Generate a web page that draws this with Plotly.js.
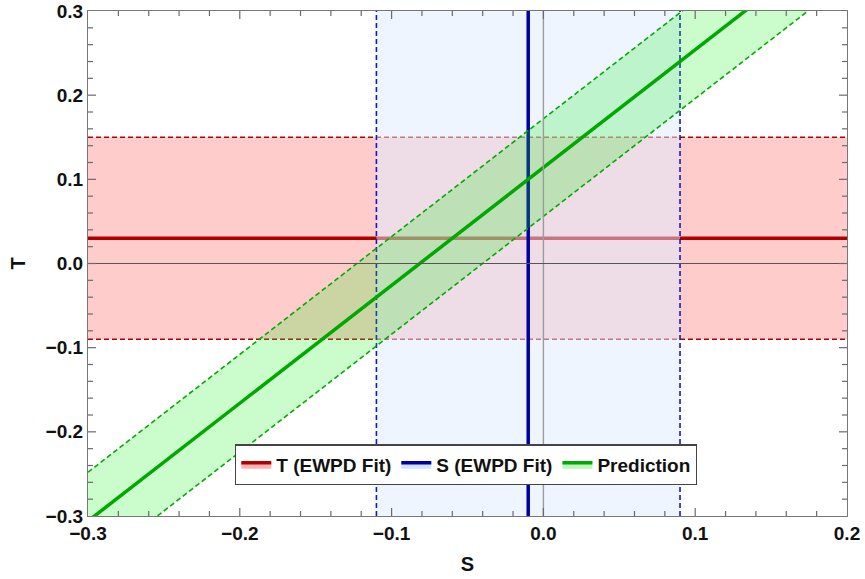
<!DOCTYPE html>
<html>
<head>
<meta charset="utf-8">
<script src="https://cdn.plot.ly/plotly-3.0.1.min.js"></script>
<style>html,body{margin:0;padding:0;background:#fff;}#chart{width:865px;height:579px;}</style>
</head>
<body>
<div id="chart"></div>
<script>
// Axis extents
var sRange = [-0.3, 0.2];
var tRange = [-0.3, 0.3];
// EWPD fit of T: [lower, central, upper]
var tBand = [-0.09, 0.03, 0.15];
// EWPD fit of S: [lower, central, upper]
var sBand = [-0.11, -0.01, 0.09];
// Prediction line and its band, sampled at the S ends of the plot
var predS = [-0.3, 0.2];
var predCentral = [-0.306, 0.394];
var predUpper = [-0.248, 0.452];
var predLower = [-0.364, 0.336];
// Zero axes drawn across the frame
var zeroS = 0, zeroT = 0;
// Tick spacing (major, minor)
var majorStep = 0.1, minorStep = 0.02;

var W = 865, H = 579, M = {l: 88, r: 18, t: 11, b: 63};

var RED = '#b00000', BLUE = '#0000a0', BLUE_D = '#1818c0', GREEN = '#00a800', GREEN_D = '#06a806';
var RED_FILL = 'rgba(255,0,0,0.2)';
var BLUE_FILL = 'rgba(222,235,255,0.5)';
var GREEN_FILL = 'rgba(20,240,20,0.22)';
var DASH = '5px,3px';

function hline(y, color, width, dash, extra) {
  var t = {x: sRange.slice(), y: [y, y], mode: 'lines', hoverinfo: 'skip', showlegend: false,
    line: {color: color, width: width, dash: dash || 'solid'}};
  for (var k in extra) t[k] = extra[k];
  return t;
}
function vline(x, color, width, dash, extra) {
  var t = {x: [x, x], y: tRange.slice(), mode: 'lines', hoverinfo: 'skip', showlegend: false,
    line: {color: color, width: width, dash: dash || 'solid'}};
  for (var k in extra) t[k] = extra[k];
  return t;
}

var traces = [];
// T band
traces.push({x: [sRange[0], sRange[1], sRange[1], sRange[0]], y: [tBand[0], tBand[0], tBand[2], tBand[2]],
  fill: 'toself', fillcolor: RED_FILL, mode: 'lines', line: {width: 0}, hoverinfo: 'skip', showlegend: false});
traces.push(hline(tBand[0], RED, 1.6, DASH));
traces.push(hline(tBand[2], RED, 1.6, DASH));
traces.push(hline(tBand[1], RED, 3.5, null, {name: 'T (EWPD Fit)', showlegend: true, fill: 'toself', fillcolor: 'rgba(255,0,0,0.3)'}));
// S band
traces.push({x: [sBand[0], sBand[2], sBand[2], sBand[0]], y: [tRange[0], tRange[0], tRange[1], tRange[1]],
  fill: 'toself', fillcolor: BLUE_FILL, mode: 'lines', line: {width: 0}, hoverinfo: 'skip', showlegend: false});
traces.push(vline(sBand[0], BLUE_D, 1.6, DASH));
traces.push(vline(sBand[2], BLUE_D, 1.6, DASH));
traces.push(vline(sBand[1], BLUE, 3.5, null, {name: 'S (EWPD Fit)', showlegend: true, fill: 'toself', fillcolor: 'rgba(190,215,255,0.7)'}));
// Prediction band
traces.push({x: predS.concat(predS.slice().reverse()), y: predUpper.concat(predLower.slice().reverse()),
  fill: 'toself', fillcolor: GREEN_FILL, mode: 'lines', line: {width: 0}, hoverinfo: 'skip', showlegend: false});
traces.push({x: predS, y: predUpper, mode: 'lines', line: {color: GREEN_D, width: 1.6, dash: DASH}, hoverinfo: 'skip', showlegend: false});
traces.push({x: predS, y: predLower, mode: 'lines', line: {color: GREEN_D, width: 1.6, dash: DASH}, hoverinfo: 'skip', showlegend: false});
traces.push({x: predS, y: predCentral, mode: 'lines', name: 'Prediction', fill: 'toself', fillcolor: 'rgba(20,220,20,0.28)',
  line: {color: GREEN, width: 3.5}, hoverinfo: 'skip'});
// Axes through the origin, on top
traces.push(vline(zeroS, '#9c9c9c', 1.4));
traces.push(hline(zeroT, '#555555', 1));

// Frame tick marks (inside, all four sides) as one line trace, lengths in px converted via the axis scale
var dxPerPx = (sRange[1] - sRange[0]) / (W - M.l - M.r);
var dyPerPx = (tRange[1] - tRange[0]) / (H - M.t - M.b);
var tx = [], ty = [];
function addTicks(range, isX) {
  var n = Math.round((range[1] - range[0]) / minorStep);
  var per = Math.round(majorStep / minorStep);
  for (var i = 1; i < n; i++) {
    var v = range[0] + i * minorStep;
    var len = (i % per === 0) ? 8 : 5;
    if (isX) {
      tx.push(v, v, null, v, v, null);
      ty.push(tRange[0], tRange[0] + len * dyPerPx, null, tRange[1], tRange[1] - len * dyPerPx, null);
    } else {
      ty.push(v, v, null, v, v, null);
      tx.push(sRange[0], sRange[0] + len * dxPerPx, null, sRange[1], sRange[1] - len * dxPerPx, null);
    }
  }
}
addTicks(sRange, true);
addTicks(tRange, false);
traces.push({x: tx, y: ty, mode: 'lines', connectgaps: false, hoverinfo: 'skip', showlegend: false,
  line: {color: '#6a6a6a', width: 1.2}});

var FONT = '"Liberation Sans", Arial, Helvetica, sans-serif';
function axis(range, title) {
  return {
    range: range, dtick: majorStep,
    ticks: '', showline: true, linecolor: '#777', linewidth: 1.3, mirror: true,
    showgrid: false, zeroline: false,
    tickformat: '.1f',
    tickfont: {family: FONT, size: 19, color: '#111', weight: 'bold'},
    title: {text: title, font: {family: FONT, size: 20, color: '#111', weight: 'bold'}, standoff: 14}
  };
}

var layout = {
  width: W, height: H,
  margin: M,
  xaxis: axis(sRange, 'S'), yaxis: axis(tRange, 'T'),
  showlegend: true,
  legend: {orientation: 'h', x: 0.498, xanchor: 'center', y: 0.101, yanchor: 'middle',
    bgcolor: '#fff', bordercolor: '#444', borderwidth: 1.3, itemwidth: 30,
    font: {family: FONT, size: 19, color: '#111', weight: 'bold'}}
};

Plotly.newPlot('chart', traces, layout, {displayModeBar: false});
</script>
</body>
</html>
